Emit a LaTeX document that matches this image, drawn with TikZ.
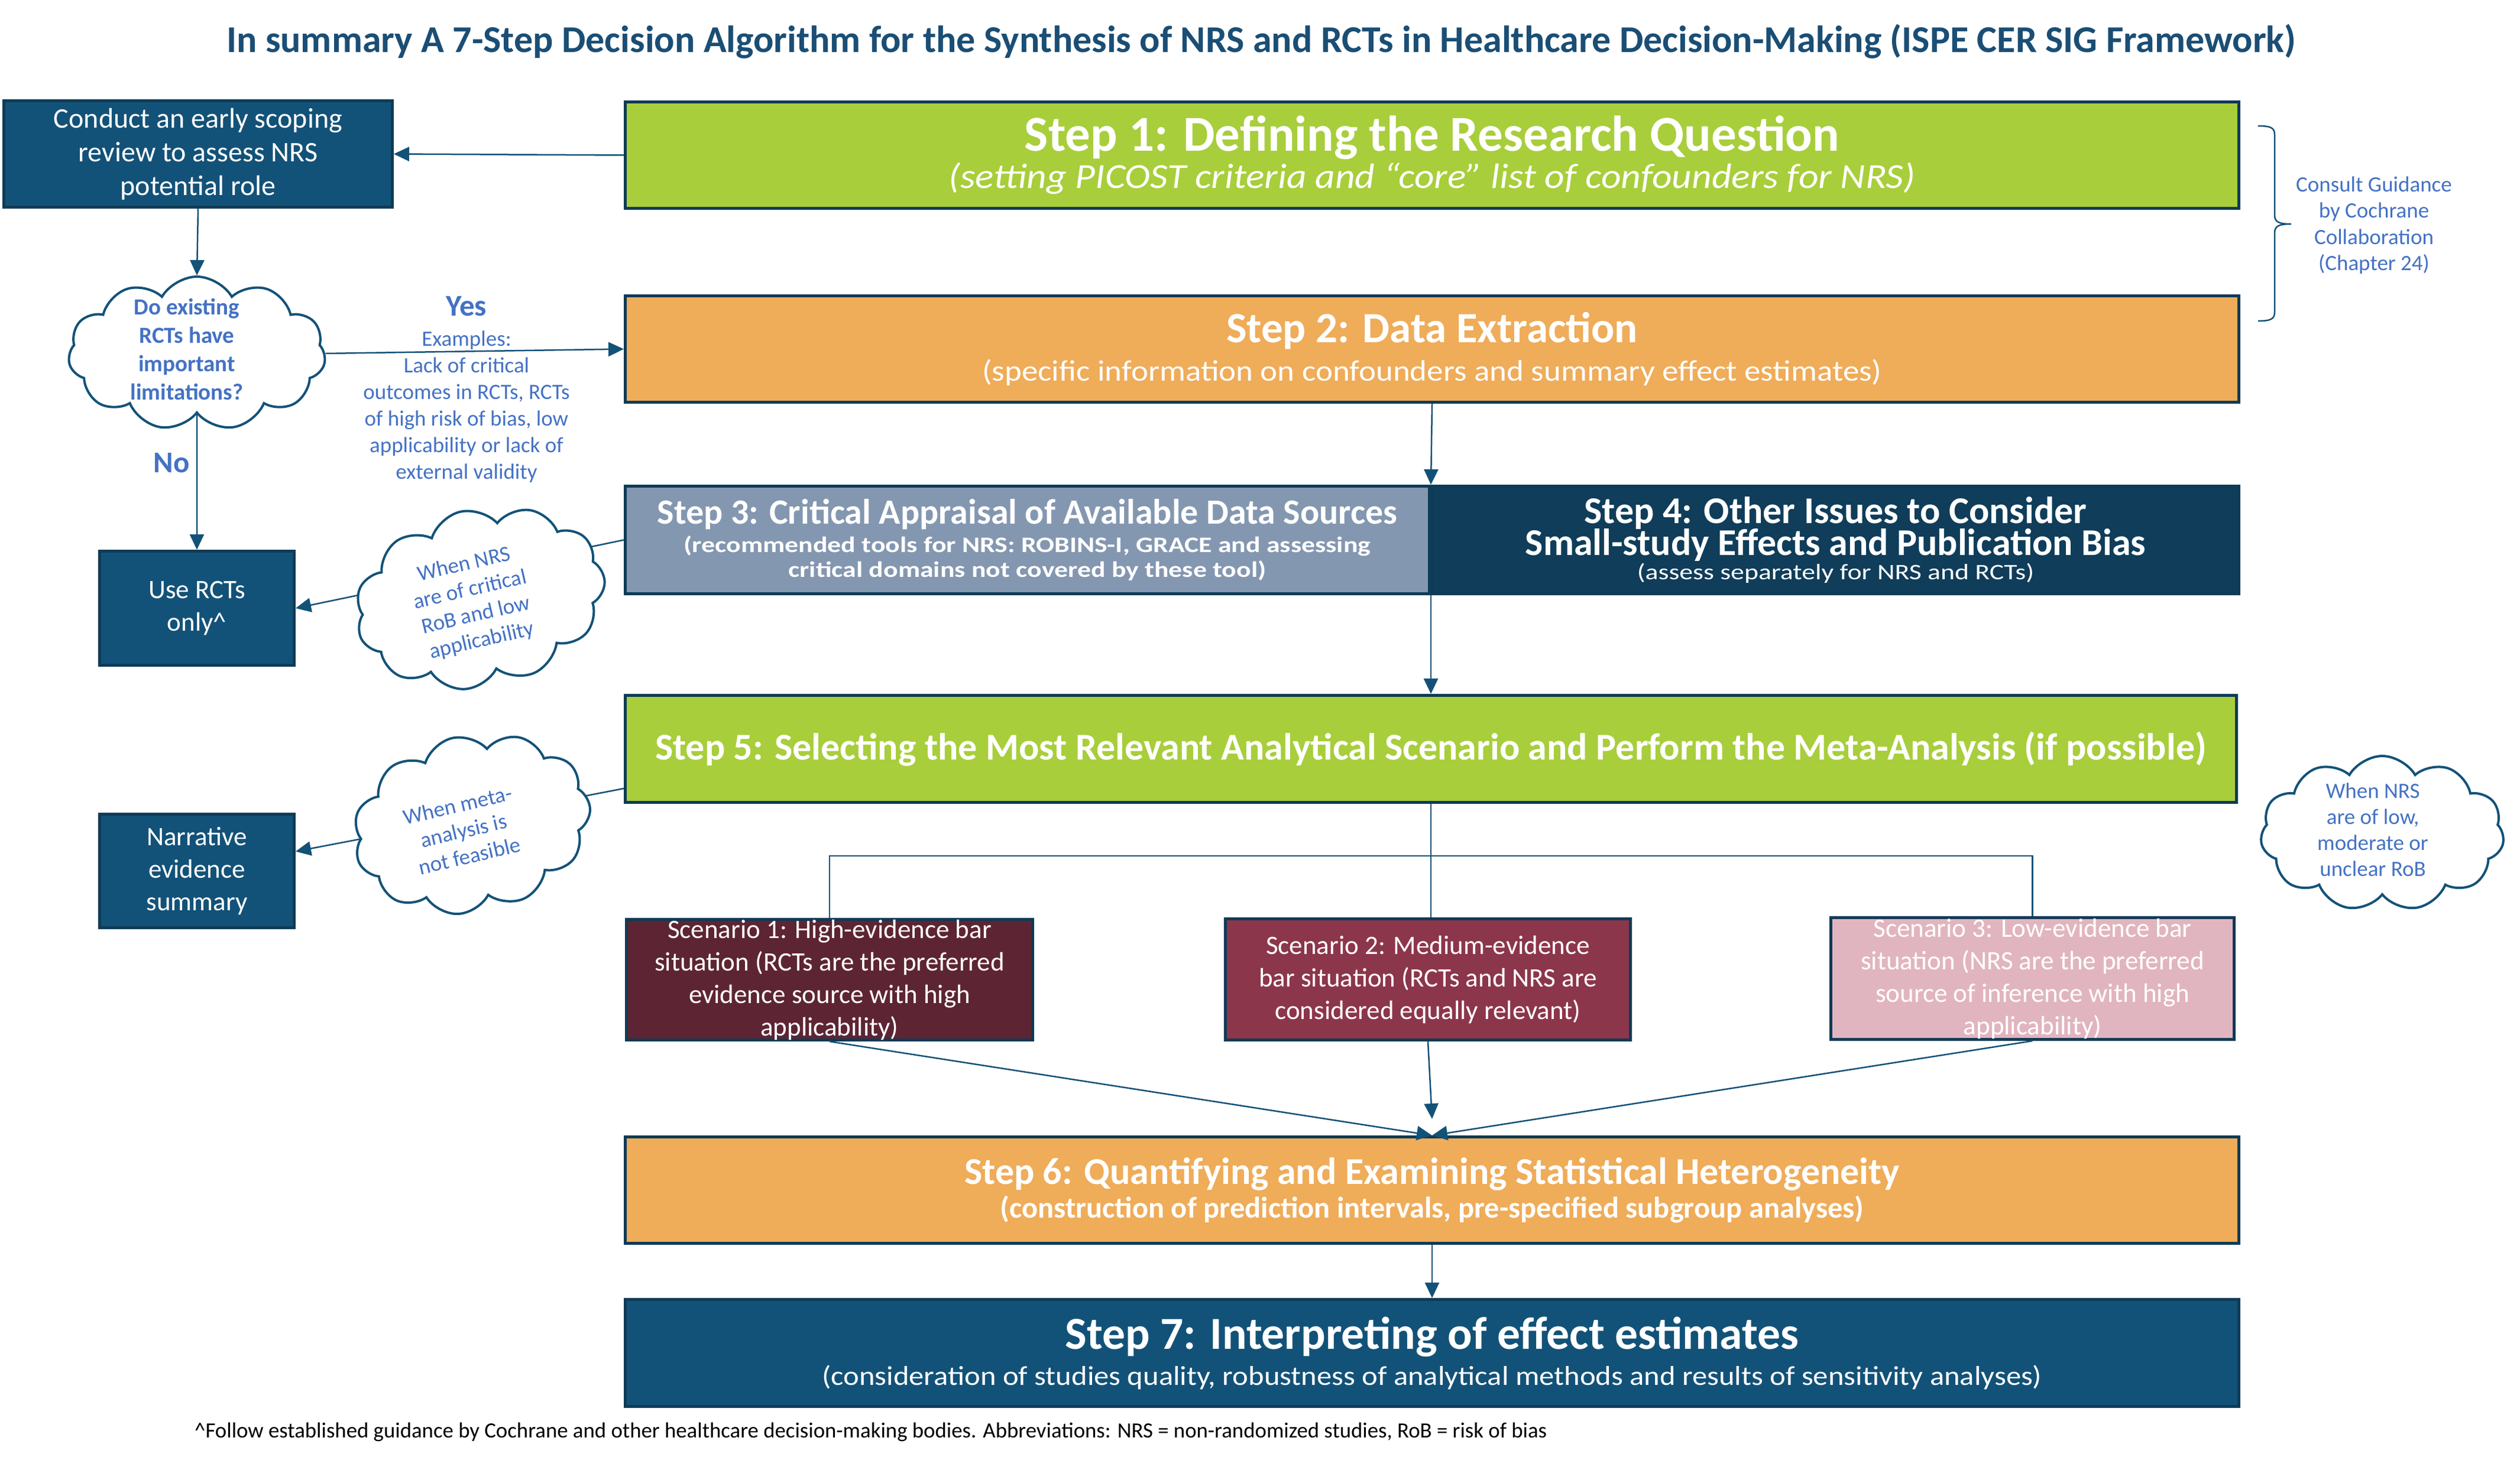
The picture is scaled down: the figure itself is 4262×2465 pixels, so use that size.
\documentclass[tikz,border=0pt]{standalone}
\usepackage{fontspec}
\setmainfont{Carlito}
\newfontfamily\widefont[FakeStretch=1.22]{Carlito}
\newfontfamily\semiwide[FakeStretch=1.1]{Carlito}
\usetikzlibrary{shapes.symbols,arrows.meta,calc}

\definecolor{navyb}{HTML}{0E3B56}
\definecolor{boxblue}{HTML}{135278}
\definecolor{stepfour}{HTML}{0F3D5A}
\definecolor{stepthree}{HTML}{8497B0}
\definecolor{stepgreen}{HTML}{A8CE3B}
\definecolor{steporange}{HTML}{EFAC59}
\definecolor{scone}{HTML}{5D2533}
\definecolor{sctwo}{HTML}{8C364B}
\definecolor{scthree}{HTML}{E1B5BF}
\definecolor{tblue}{HTML}{4472C4}
\definecolor{lineb}{HTML}{135278}
\definecolor{titleb}{HTML}{1A4E75}

\newcommand\setfs[2]{\fontsize{#1}{#2}\selectfont\lineskiplimit=-1000pt\lineskip=0pt\relax}

\begin{document}
\begin{tikzpicture}[x=1pt,y=-1pt,
  box/.style={draw=navyb, line width=5pt, inner sep=0pt, align=center, text=white},
  conn/.style={draw=lineb, line width=2.5pt},
  arr/.style={conn, -{Triangle[length=26pt,width=24pt]}},
  cloudshape/.style={cloud, cloud puffs=11, cloud puff arc=120, cloud ignores aspect, draw=lineb, line width=4pt, fill=white, inner sep=0pt},
  bluetxt/.style={text=tblue, align=center, inner sep=0pt},
]
\useasboundingbox (0,0) rectangle (4262,2465);
\fill[white] (0,0) rectangle (4262,2465);

% title
\node[text=titleb, font=\setfs{64}{70}\bfseries, inner sep=0pt] (title) at (2133,70)
  {In summary A 7-Step Decision Algorithm for the Synthesis of NRS and RCTs in Healthcare Decision-Making (ISPE CER SIG Framework)};

% left column boxes
\node[box, fill=boxblue, minimum width=657pt, minimum height=180pt, font=\setfs{48}{57}] (scope) at (335,260.5)
  {Conduct an early scoping\\review to assess NRS\\potential role};
\node[box, fill=boxblue, minimum width=329pt, minimum height=193pt, font=\setfs{45}{55}] (userct) at (333,1029)
  {Use RCTs\\only\textasciicircum};
\node[box, fill=boxblue, minimum width=329pt, minimum height=192pt, font=\setfs{45}{55}] (narr) at (333,1473.5)
  {Narrative\\evidence\\summary};

% steps
\node[box, fill=stepgreen, minimum width=2729pt, minimum height=180pt, font=\semiwide\setfs{59.5}{63}] (s1) at (2422,262.5)
  {{\rmfamily\setfs{85}{85}\bfseries Step 1: Defining the Research Question}\\{\itshape (setting PICOST criteria and “core” list of confounders for NRS)}};
\node[box, fill=steporange, minimum width=2729pt, minimum height=180pt, font=\semiwide\setfs{50}{65}] (s2) at (2422,590.5)
  {{\rmfamily\setfs{73}{73}\bfseries Step 2: Data Extraction}\\(specific information on confounders and summary effect estimates)};
\node[box, fill=stepfour, minimum width=1364pt, minimum height=182pt, font=\setfs{37.5}{40.5}] (s4) at (3104.5,913.5)
  {{\setfs{64}{64}\bfseries Step 4: Other Issues to Consider}\\[13.5pt]{\setfs{64}{64}\bfseries Small-study Effects and Publication Bias}\\{\widefont (assess separately for NRS and RCTs)}};
\node[box, fill=stepthree, minimum width=1360pt, minimum height=182pt, font=\setfs{37.5}{42}] (s3) at (1737.5,913.5)
  {{\setfs{60}{60}\bfseries Step 3: Critical Appraisal of Available Data Sources}\\[6pt]{\widefont\bfseries (recommended tools for NRS: ROBINS-I, GRACE and assessing}\\{\widefont\bfseries critical domains not covered by these tool)}};
\node[box, fill=stepgreen, minimum width=2725pt, minimum height=181pt, font=\setfs{64}{70}\bfseries] (s5) at (2420,1267)
  {Step 5: Selecting the Most Relevant Analytical Scenario and Perform the Meta-Analysis (if possible)};

% scenarios
\node[box, fill=scone, minimum width=687pt, minimum height=204pt, font=\setfs{45}{55}] (sc1) at (1403,1657.5)
  {Scenario 1: High-evidence bar\\situation (RCTs are the preferred\\evidence source with high\\applicability)};
\node[box, fill=sctwo, minimum width=685pt, minimum height=205pt, font=\setfs{45}{55}] (sc2) at (2415,1657)
  {Scenario 2: Medium-evidence\\bar situation (RCTs and NRS are\\considered equally relevant)};
\node[box, fill=scthree, minimum width=682pt, minimum height=206pt, font=\setfs{45}{55}] (sc3) at (3437.5,1655.5)
  {Scenario 3: Low-evidence bar\\situation (NRS are the preferred\\source of inference with high\\applicability)};

\node[box, fill=steporange, minimum width=2729pt, minimum height=180pt, font=\setfs{50.5}{57}\bfseries] (s6) at (2422,2013.5)
  {{\setfs{64}{64}Step 6: Quantifying and Examining Statistical Heterogeneity}\\(construction of prediction intervals, pre-specified subgroup analyses)};
\node[box, fill=boxblue, minimum width=2729pt, minimum height=181pt, font=\semiwide\setfs{46}{61}] (s7) at (2422,2289)
  {{\rmfamily\setfs{77.5}{77}\bfseries Step 7: Interpreting of effect estimates}\\(consideration of studies quality, robustness of analytical methods and results of sensitivity analyses)};

% cloud 1 (drawn before its connectors)
\node[cloudshape, minimum width=435pt, minimum height=260pt] (c1) at (333,598) {};
\node[bluetxt, font=\setfs{39}{48}\bfseries] (c1t) at (316,591) {Do existing\\RCTs have\\important\\limitations?};

% connectors
\draw[arr] (s1.west) -- (scope.east);
\draw[arr] (scope.south) -- (c1.north);
\draw[arr] (c1.east) -- (s2.west);
\draw[arr] (c1.south) -- (userct.north);
\draw[arr] (s2.south) -- (s3.north east);
\draw[arr] (s3.south east) -- (s5.north);
\draw[arr] (s3.west) -- (userct.east);
\draw[arr] ($(s5.west)+(0,67)$) -- ($(narr.east)+(0,-33)$);
\coordinate (split) at (2420,1448);
\draw[conn] (s5.south) -- (s5.south |- sc2.north);
\draw[conn] (sc1.north) |- (split) -| (sc3.north);
\draw[arr] (sc1.south) -- (s6.north);
\draw[arr] (sc2.south) -- ($(s6.north)+(0,-28)$);
\draw[arr] (sc3.south) -- (s6.north);
\draw[arr] (s6.south) -- (s7.north);

% brace
\draw[draw=lineb, line width=2.5pt] (3819,213) .. controls (3840,213) and (3847,216) .. (3847,228) -- (3847,364)
  .. controls (3847,376) and (3855,379) .. (3875,379) .. controls (3855,379) and (3847,382) .. (3847,394)
  -- (3847,528) .. controls (3847,540) and (3840,543) .. (3819,543);

% labels
\node[bluetxt, font=\setfs{51}{60}\bfseries] (yes) at (789,518) {Yes};
\node[bluetxt, font=\setfs{37}{45}] (ex) at (789,688) {Examples:\\Lack of critical\\outcomes in RCTs, RCTs\\of high risk of bias, low\\applicability or lack of\\external validity};
\node[bluetxt, font=\setfs{51}{60}\bfseries] (no) at (290,783) {No};
\node[bluetxt, font=\setfs{37}{44.5}] (consult) at (4015,381) {Consult Guidance\\by Cochrane\\Collaboration\\(Chapter 24)};

% other clouds
\node[cloudshape, rotate=13, minimum width=427pt, minimum height=300pt] (c2) at (812,1012) {};
\node[bluetxt, rotate=13, font=\setfs{37}{44}] (c2t) at (800,1020) {When NRS\\are of critical\\RoB and low\\applicability};
\node[cloudshape, rotate=13, minimum width=405pt, minimum height=298pt] (c3) at (798,1394) {};
\node[bluetxt, rotate=13, font=\setfs{37}{44}] (c3t) at (784,1405) {When meta-\\analysis is\\not feasible};
\node[cloudshape, minimum width=412pt, minimum height=262pt] (c4) at (4029,1410) {};
\node[bluetxt, font=\setfs{37}{44}] (c4t) at (4013,1404) {When NRS\\are of low,\\moderate or\\unclear RoB};

% footnote
\node[anchor=west, inner sep=0pt, font=\setfs{36.8}{40}] (foot) at (329,2423)
  {\textasciicircum Follow established guidance by Cochrane and other healthcare decision-making bodies. Abbreviations: NRS = non-randomized studies, RoB = risk of bias};
\end{tikzpicture}
\end{document}
